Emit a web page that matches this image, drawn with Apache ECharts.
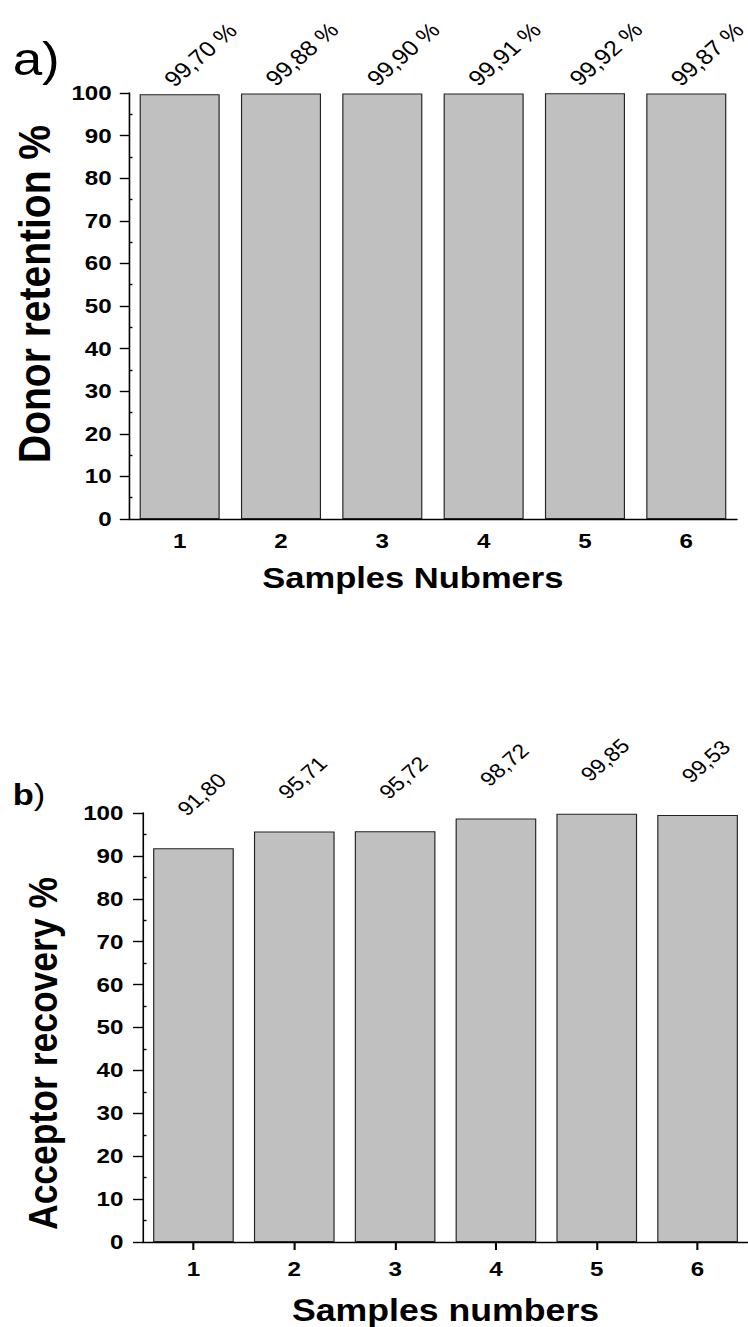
<!DOCTYPE html>
<html>
<head>
<meta charset="utf-8">
<script src="https://cdn.jsdelivr.net/npm/echarts@6/dist/echarts.min.js"></script>
<style>
  html, body { margin: 0; padding: 0; background: #fff; overflow: hidden; }
  /* the figure is laid out on a 650 px wide canvas and widened to the 748 px page */
  #chart { width: 650px; height: 1327px; transform: scaleX(1.150769); transform-origin: 0 0; }
</style>
</head>
<body>
<div id="chart"></div>
<script>
// Sample numbers shared by both panels
const samples = ['1', '2', '3', '4', '5', '6'];
// a) donor retention, %
const donorRetention = [99.70, 99.88, 99.90, 99.91, 99.92, 99.87];
// b) acceptor recovery, %
const acceptorRecovery = [91.80, 95.71, 95.72, 98.72, 99.85, 99.53];
// minor tick positions on the value axes
const minorTicks = [5, 15, 25, 35, 45, 55, 65, 75, 85, 95];

const FONT = '"Liberation Sans", Arial, Helvetica, sans-serif';
const fmtComma = v => v.toFixed(2).replace('.', ',');

const chart = echarts.init(document.getElementById('chart'), null, { renderer: 'svg' });

function valueAxis(gridIndex, name, nameGap, nameSize, namePad, labelMargin, tickLen) {
  return {
    type: 'value', gridIndex, min: 0, max: 100, interval: 10, position: 'left',
    name, nameLocation: 'middle', nameRotate: 90, nameGap,
    nameTextStyle: { fontFamily: FONT, fontWeight: 'bold', fontSize: nameSize, color: '#000', padding: namePad },
    axisLine: { show: true, lineStyle: { color: '#000', width: 1.4 } },
    axisTick: { show: true, inside: false, length: tickLen, lineStyle: { color: '#000', width: 1.4 } },
    axisLabel: { fontFamily: FONT, fontWeight: 'bold', fontSize: 21, color: '#000', margin: labelMargin },
    splitLine: { show: false }
  };
}
function minorAxis(gridIndex) {
  return {
    type: 'value', gridIndex, min: 0, max: 100, interval: 10, position: 'left', offset: 0,
    axisLine: { show: false },
    axisTick: { show: true, inside: true, length: 3, customValues: minorTicks, lineStyle: { color: '#000', width: 1.4 } },
    axisLabel: { show: false },
    splitLine: { show: false }
  };
}

const option = {
  animation: false,
  backgroundColor: '#fff',
  grid: [
    { left: 112.1, top: 93, width: 528.3, height: 426 },
    { left: 124.3, top: 813, width: 531.8, height: 430 }
  ],
  xAxis: [
    {
      type: 'category', gridIndex: 0, data: samples,
      name: 'Samples Nubmers', nameLocation: 'middle', nameGap: 44,
      nameTextStyle: { fontFamily: FONT, fontWeight: 'bold', fontSize: 30, color: '#000', padding: [0, 35, 0, 0] },
      axisLine: { lineStyle: { color: '#000', width: 1.4 } },
      axisTick: { show: true, inside: true, alignWithLabel: true, length: 3, lineStyle: { color: '#000', width: 1.4 } },
      axisLabel: { fontFamily: FONT, fontWeight: 'bold', fontSize: 21, color: '#000', margin: 12 }
    },
    {
      type: 'category', gridIndex: 1, data: samples,
      name: 'Samples numbers', nameLocation: 'middle', nameGap: 53,
      nameTextStyle: { fontFamily: FONT, fontWeight: 'bold', fontSize: 31, color: '#000' },
      axisLine: { lineStyle: { color: '#000', width: 1.4 } },
      axisTick: { show: true, inside: false, alignWithLabel: true, length: 8, lineStyle: { color: '#000', width: 1.8 } },
      axisLabel: { fontFamily: FONT, fontWeight: 'bold', fontSize: 21, color: '#000', margin: 17 }
    }
  ],
  yAxis: [
    valueAxis(0, 'Donor retention %', 63, 39, [0, 0, 0, 24], 15, 8),
    valueAxis(1, 'Acceptor recovery %', 69, 35.5, [0, 52, 0, 0], 17, 8.7),
    minorAxis(0),
    minorAxis(1)
  ],
  series: [
    {
      type: 'bar', xAxisIndex: 0, yAxisIndex: 0, data: donorRetention,
      barCategoryGap: '21%',
      itemStyle: { color: '#c0c0c0', borderColor: '#222', borderWidth: 1 },
      label: {
        show: true, position: ['36%', -11.5], rotate: 45, align: 'left', verticalAlign: 'middle',
        fontFamily: FONT, fontSize: 21.5, color: '#000',
        formatter: p => fmtComma(p.value) + ' %'
      }
    },
    {
      type: 'bar', xAxisIndex: 1, yAxisIndex: 1, data: acceptorRecovery,
      barCategoryGap: '20%',
      itemStyle: { color: '#c0c0c0', borderColor: '#222', borderWidth: 1 },
      label: {
        show: true, position: ['35%', -36], rotate: 45, align: 'left', verticalAlign: 'middle',
        fontFamily: FONT, fontSize: 20, color: '#000',
        formatter: p => fmtComma(p.value)
      }
    }
  ],
  graphic: [
    { type: 'text', x: 11, y: 59.5, style: { text: 'a)', font: '46px ' + FONT, fill: '#000', verticalAlign: 'middle', textVerticalAlign: 'middle' } },
    { type: 'text', x: 11, y: 794.5, style: { text: '{b|b}{p|)}', verticalAlign: 'middle', textVerticalAlign: 'middle', rich: {
        b: { fontFamily: FONT, fontWeight: 'bold', fontSize: 30, fill: '#000' },
        p: { fontFamily: FONT, fontSize: 30, fill: '#000' } }, fill: '#000' } }
  ]
};

chart.setOption(option);
</script>
</body>
</html>
